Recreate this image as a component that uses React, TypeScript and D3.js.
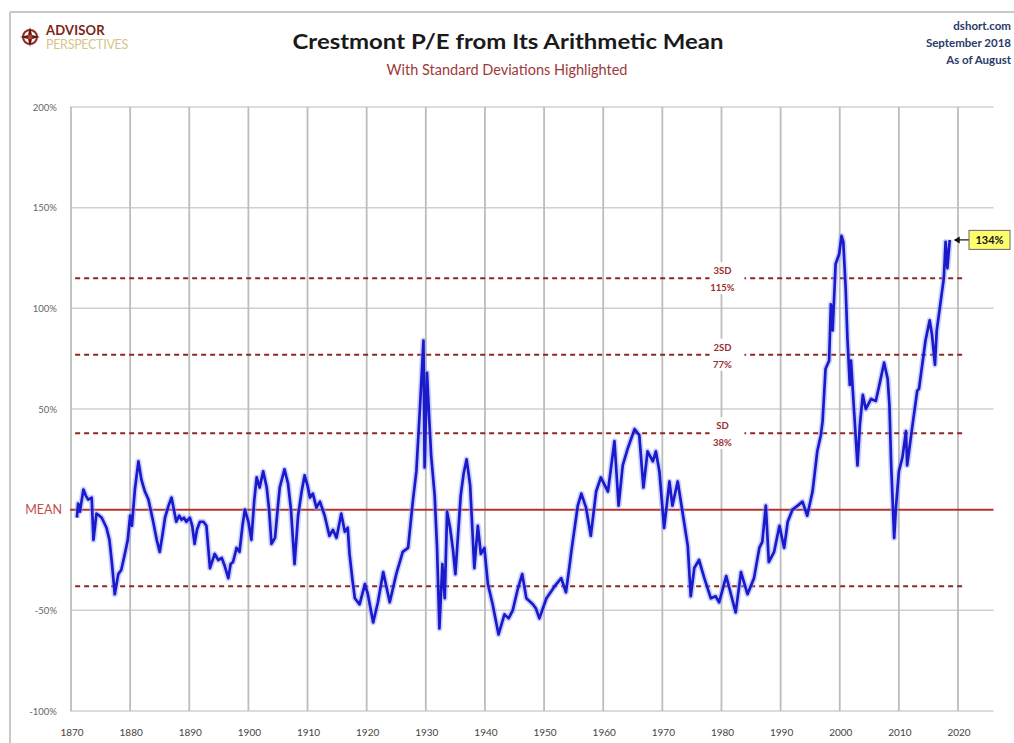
import React from "react";
import * as d3 from "d3";

// ---- Data ----
const years = [
  1871.0, 1871.2, 1871.5, 1872.1, 1872.5, 1872.9, 1873.5, 1873.8, 1874.3, 1874.8,
  1875.2, 1876.0, 1876.5, 1876.9, 1877.4, 1878.0, 1878.5, 1879.1, 1879.6, 1880.0,
  1880.3, 1880.8, 1881.4, 1881.9, 1882.2, 1882.5, 1883.1, 1883.9, 1884.5, 1885.0,
  1885.5, 1885.9, 1886.5, 1887.0, 1887.4, 1887.8, 1888.3, 1888.7, 1889.1, 1889.5,
  1890.1, 1890.5, 1890.9, 1891.3, 1891.8, 1892.4, 1892.9, 1893.5, 1894.3, 1894.9,
  1895.5, 1896.0, 1896.6, 1897.0, 1897.4, 1898.0, 1898.5, 1899.0, 1899.4, 1900.0,
  1900.5, 1901.0, 1901.4, 1901.9, 1902.5, 1903.1, 1903.5, 1903.9, 1904.5, 1905.0,
  1905.3, 1906.1, 1906.7, 1907.2, 1907.8, 1908.4, 1909.0, 1909.5, 1910.0, 1910.4,
  1910.9, 1911.5, 1912.1, 1912.9, 1913.7, 1914.3, 1914.9, 1915.7, 1916.3, 1916.8,
  1917.1, 1917.6, 1918.0, 1918.8, 1919.7, 1920.2, 1921.1, 1921.9, 1922.8, 1923.9,
  1925.0, 1926.1, 1927.0, 1927.8, 1928.4, 1929.0, 1929.6, 1929.8, 1930.2, 1930.6,
  1930.9, 1931.5, 1931.9, 1932.3, 1932.8, 1933.2, 1933.6, 1934.1, 1934.6, 1935.0,
  1935.9, 1936.4, 1936.9, 1937.5, 1938.2, 1938.8, 1939.3, 1939.9, 1940.5, 1941.3,
  1942.3, 1943.3, 1944.0, 1944.7, 1945.5, 1946.3, 1947.0, 1948.1, 1948.6, 1949.2,
  1950.4, 1951.8, 1952.9, 1953.7, 1954.3, 1954.6, 1955.7, 1956.3, 1957.1, 1957.9,
  1958.8, 1959.6, 1960.8, 1961.9, 1962.6, 1963.3, 1964.1, 1965.3, 1966.1, 1966.8,
  1967.5, 1968.4, 1968.9, 1969.5, 1970.3, 1971.2, 1971.7, 1972.6, 1973.4, 1974.3,
  1974.8, 1975.4, 1976.2, 1977.1, 1978.2, 1979.0, 1979.6, 1980.8, 1981.6, 1982.4,
  1983.3, 1984.4, 1985.5, 1986.4, 1986.9, 1987.5, 1988.0, 1988.9, 1989.8, 1990.6,
  1991.2, 1992.0, 1992.9, 1993.7, 1994.5, 1995.4, 1996.2, 1996.8, 1997.1, 1997.6,
  1998.2, 1998.5, 1998.8, 1999.3, 1999.9, 2000.3, 2000.6, 2001.0, 2001.3, 2001.7,
  2001.9, 2002.4, 2003.0, 2003.4, 2003.9, 2004.4, 2005.3, 2006.1, 2006.7, 2007.5,
  2008.1, 2008.4, 2008.7, 2009.2, 2009.5, 2010.0, 2010.6, 2011.2, 2011.4, 2012.3,
  2013.1, 2013.4, 2014.5, 2015.2, 2015.6, 2016.1, 2016.4, 2017.0, 2017.6, 2017.9,
  2018.2, 2018.6,
];
const deviations = [
  -4, 3, -1, 10, 7, 5, 6, -15, -2, -3,
  -4, -9, -15, -26, -42, -32, -30, -22, -15, -3,
  -8, 10, 24, 15, 12, 9, 5, -6, -15, -21,
  -12, -4, 2, 6, 0, -6, -3, -5, -4, -6,
  -4, -8, -17, -10, -6, -6, -8, -29, -22, -25,
  -24, -28, -34, -27, -26, -19, -21, -8, 0, -6,
  -15, 5, 16, 11, 19, 11, 0, -17, -14, 2,
  11, 20, 13, 0, -27, -3, 9, 17, 12, 6,
  8, 1, 4, -3, -13, -10, -14, -2, -11, -9,
  -22, -35, -44, -47, -37, -42, -56, -46, -31, -46,
  -32, -21, -19, 4, 19, 50, 84, 21, 68, 44,
  27, 7, -19, -59, -27, -44, -1, -9, -20, -32,
  7, 18, 25, 12, -29, -8, -22, -19, -37, -47,
  -62, -52, -54, -50, -40, -32, -44, -47, -49, -54,
  -44, -38, -34, -41, -28, -21, 2, 8, 1, -13,
  9, 16, 9, 34, 2, 22, 30, 40, 37, 11,
  29, 24, 29, 19, -9, 14, 2, 14, -1, -18,
  -43, -29, -25, -34, -44, -43, -46, -33, -42, -51,
  -31, -42, -34, -19, -16, 2, -26, -21, -8, -19,
  -6, 0, 2, 4, -3, 9, 29, 37, 44, 70,
  74, 102, 89, 122, 127, 136, 133, 110, 85, 62,
  74, 50, 22, 42, 57, 50, 55, 54, 62, 73,
  65, 52, 22, -14, 1, 19, 26, 39, 22, 42,
  59, 60, 84, 94, 87, 72, 89, 102, 115, 133,
  120, 134,
];

const xTicks = [1870, 1880, 1890, 1900, 1910, 1920, 1930, 1940, 1950, 1960, 1970, 1980, 1990, 2000, 2010, 2020];
const yTicks = [200, 150, 100, 50, 0, -50, -100];
const yTickLabels = ["200%", "150%", "100%", "50%", "MEAN", "-50%", "-100%"];
const sdLevels = [115, 77, 38, -38];
const sdNames = ["3SD", "2SD", "SD", ""];
const sdPctLabels = ["115%", "77%", "38%", ""];
const lastLabel = "134%";

const titleText = "Crestmont P/E from Its Arithmetic Mean";
const subtitleText = "With Standard Deviations Highlighted";
const sourceLines = ["dshort.com", "September 2018", "As of August"];

export default function App() {
  const W = 1014;
  const H = 743;
  const x = d3.scaleLinear().domain([1870, 2026]).range([71, 993.5]);
  const y = d3.scaleLinear().domain([-100, 200]).range([711, 107]);

  const data = years.map((yr, i) => ({ yr, v: deviations[i] }));
  const line = d3
    .line<{ yr: number; v: number }>()
    .x((d) => x(d.yr))
    .y((d) => y(d.v))
    .curve(d3.curveLinear);
  const pathD = line(data) || "";

  const last = data[data.length - 1];
  const font = "Lato, 'Open Sans', 'DejaVu Sans', sans-serif";
  const labelX = x(1980);

  return (
    <svg
      width={W}
      height={H}
      style={{ position: "absolute", left: 0, top: 0, background: "#fff" }}
      fontFamily={font}
    >
      <rect x={0} y={0} width={W} height={H} fill="#fff" />
      {/* outer frame */}
      <line x1={10} y1={12} x2={W} y2={12} stroke="#c8c8c8" strokeWidth={2} />
      <line x1={10} y1={12} x2={10} y2={H} stroke="#c8c8c8" strokeWidth={2} />

      {/* logo */}
      <g>
        <circle cx={30} cy={37} r={7} fill="none" stroke="#8a2a22" strokeWidth={2} />
        <path d="M30 27 L32 35 L40 37 L32 39 L30 47 L28 39 L20 37 L28 35 Z" fill="#5a1a14" />
        <circle cx={30} cy={37} r={2.5} fill="#c0392b" />
        <text x={46} y={35} fontSize={13} fontWeight={700} fill="#7a2418" letterSpacing={0.2}>
          ADVISOR
        </text>
        <text x={46} y={49} fontSize={12.5} fill="#d8c58a" letterSpacing={-0.3}>
          PERSPECTIVES
        </text>
      </g>

      {/* titles */}
      <text
        x={508}
        y={49}
        textAnchor="middle"
        fontSize={21}
        fontWeight={700}
        fill="#1a1a1a"
        textLength={431}
        lengthAdjust="spacingAndGlyphs"
      >
        {titleText}
      </text>
      <text x={507} y={75} textAnchor="middle" fontSize={14.5} fill="#a0393a">
        {subtitleText}
      </text>

      {/* source text */}
      {sourceLines.map((s, i) => (
        <text
          key={s}
          x={1011}
          y={30 + i * 17}
          textAnchor="end"
          fontSize={11.5}
          fontWeight={700}
          fill="#2a3a6a"
        >
          {s}
        </text>
      ))}

      {/* horizontal gridlines */}
      {yTicks
        .filter((t) => t !== 0)
        .map((t) => (
          <line key={"h" + t} x1={70} x2={993.5} y1={y(t)} y2={y(t)} stroke="#d0d0d0" strokeWidth={1.5} />
        ))}
      {/* vertical gridlines */}
      {xTicks.map((t) => (
        <line key={"v" + t} x1={x(t)} x2={x(t)} y1={y(200)} y2={y(-100)} stroke="#bdbdbd" strokeWidth={1.8} />
      ))}

      {/* y tick labels */}
      {yTicks.map((t, i) => (
        <text
          key={"yl" + t}
          x={t === 0 ? 62 : 57}
          y={y(t) + (t === 0 ? 4.5 : 3.5)}
          textAnchor="end"
          fontSize={t === 0 ? 12.5 : 9.5}
          fill={t === 0 ? "#c0504d" : "#666"}
        >
          {yTickLabels[i]}
        </text>
      ))}
      {/* x tick labels */}
      {xTicks.map((t) => (
        <text key={"xl" + t} x={x(t) + 1} y={736} textAnchor="middle" fontSize={10} fill="#444">
          {t}
        </text>
      ))}

      {/* SD dashed lines */}
      {sdLevels.map((lv) => (
        <line
          key={"sd" + lv}
          x1={x(1870.7)}
          x2={x(2021.2)}
          y1={y(lv)}
          y2={y(lv)}
          stroke="#8b2a22"
          strokeWidth={2}
          strokeDasharray="5,4"
        />
      ))}

      {/* mean line */}
      <line x1={70} x2={993.5} y1={y(0)} y2={y(0)} stroke="#b5332a" strokeWidth={2} />

      {/* data line with soft halo */}
      <path d={pathD} fill="none" stroke="#8f9bff" strokeWidth={6} strokeOpacity={0.45} strokeLinejoin="round" />
      <path d={pathD} fill="none" stroke="#1a1acb" strokeWidth={2.7} strokeLinejoin="round" />

      {/* SD labels */}
      {sdLevels.map((lv, i) =>
        sdNames[i] ? (
          <g key={"sdl" + lv}>
            <rect x={labelX - 12} y={y(lv) - 16} width={35} height={32} fill="#fff" />
            <text x={labelX + 1} y={y(lv) - 4} textAnchor="middle" fontSize={9.5} fontWeight={700} fill="#9b3030">
              {sdNames[i]}
            </text>
            <text x={labelX + 1} y={y(lv) + 13} textAnchor="middle" fontSize={9.5} fontWeight={700} fill="#9b3030">
              {sdPctLabels[i]}
            </text>
          </g>
        ) : null
      )}

      {/* last value callout */}
      <g>
        <line x1={x(last.yr) + 8} x2={969} y1={y(last.v)} y2={y(last.v)} stroke="#111" strokeWidth={1.2} />
        <path d={`M${x(last.yr) + 4},${y(last.v)} l6,-3.5 l0,7 Z`} fill="#111" />
        <rect x={969} y={y(last.v) - 9.5} width={41} height={19} fill="#ffff6e" stroke="#666" strokeWidth={1} />
        <text x={989.5} y={y(last.v) + 4} textAnchor="middle" fontSize={11} fontWeight={700} fill="#111">
          {lastLabel}
        </text>
      </g>
    </svg>
  );
}
